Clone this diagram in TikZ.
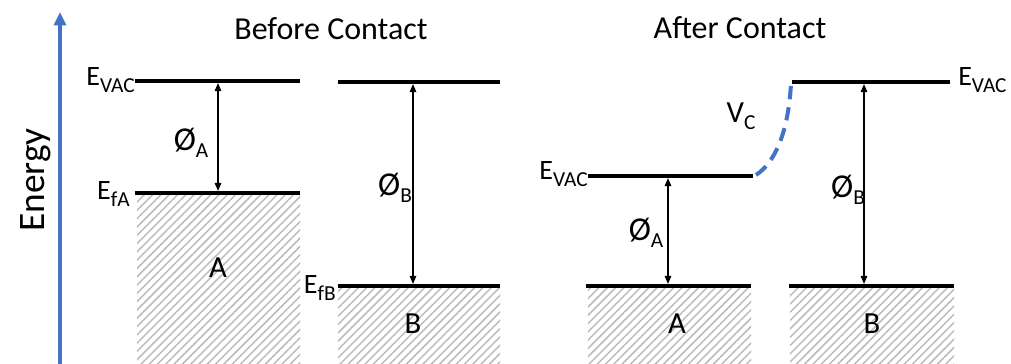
\documentclass[tikz,border=0pt]{standalone}
\usepackage{fontspec}
\setmainfont{Carlito}
\usetikzlibrary{arrows.meta,patterns.meta}
\definecolor{axisblue}{HTML}{4472C4}
\definecolor{hatchgray}{HTML}{BABABA}
% lowered, smaller text for subscripts
\newcommand\subtxt[2][16]{\raisebox{-5.5pt}{\fontsize{#1}{#1}\selectfont #2}}
\newcommand\phisym{\fontsize{25}{27}\selectfont Ø}

\begin{document}
\begin{tikzpicture}[x=0.75pt,y=-0.75pt,
  level/.style={line width=3pt},
  gap/.style={line width=0.8pt,
    {Triangle[length=6pt,width=5pt]}-{Triangle[length=6pt,width=5pt]},
    shorten <=1.6pt, shorten >=1.6pt},
  band/.style={pattern={Lines[angle=45,distance=4.4pt,line width=1.1pt]},
    pattern color=hatchgray},
  lab/.style={inner sep=0pt, font=\fontsize{21}{24}\selectfont},
  big/.style={inner sep=0pt, font=\fontsize{23}{26}\selectfont},
  title/.style={inner sep=0pt, font=\fontsize{24}{28}\selectfont},
]
\useasboundingbox (0,0) rectangle (1011,364);

% energy axis
\coordinate (axbot) at (60,364);
\coordinate (axtop) at (60,12);
\draw[axisblue, line width=3pt, -{Triangle[length=10pt,width=9pt]}] (axbot) -- (axtop);
\node[inner sep=0pt, rotate=90, anchor=base, font=\fontsize{28}{32}\selectfont] (energy) at (45,180) {Energy};

% titles
\node[title, anchor=base] (before) at (331,39) {Before Contact};
\node[title, anchor=base] (after) at (740,38) {After Contact};

% ---------- before contact ----------
\fill[band] (137,195) rectangle (300,364);
\fill[band] (338,288) rectangle (500,364);
\draw[level] (135,81) coordinate (vacAl) -- (300,81) coordinate (vacAr);
\draw[level] (135,193) coordinate (fAl) -- (300,193) coordinate (fAr);
\draw[level] (338,82) coordinate (vacBl) -- (500,82) coordinate (vacBr);
\draw[level] (338,286) coordinate (fBl) -- (500,286) coordinate (fBr);

\coordinate (gA1) at (218,81);  \coordinate (gA2) at (218,193);
\coordinate (gB1) at (413,82);  \coordinate (gB2) at (413,286);
\draw[gap] (gA1) -- (gA2);
\draw[gap] (gB1) -- (gB2);

\node[lab, anchor=base east] (lvacA) at (135,85) {E\subtxt{VAC}};
\node[lab, anchor=base east] (lfA) at (130,199) {E\subtxt{fA}};
\node[lab, anchor=base east] (lfB) at (336,293) {E\subtxt{fB}};
\node[inner sep=0pt, anchor=base] (phiA) at (191,150) {\phisym\subtxt{A}};
\node[inner sep=0pt, anchor=base] (phiB) at (395,195) {\phisym\subtxt{B}};
\node[big, anchor=base] (mA) at (218,277) {A};
\node[big, anchor=base] (mB) at (413,333) {B};

% ---------- after contact ----------
\fill[band] (588,288) rectangle (751,364);
\fill[band] (790,288) rectangle (954,364);
\draw[level] (588,176) coordinate (vacAl2) -- (753,176) coordinate (vacAr2);
\draw[level] (792,82) coordinate (vacBl2) -- (950,82) coordinate (vacBr2);
\draw[level] (586,286) coordinate (fAl2) -- (751,286) coordinate (fAr2);
\draw[level] (789,286) coordinate (fBl2) -- (954,286) coordinate (fBr2);

% contact potential step
\coordinate (vcS) at (756,175);
\coordinate (vcE) at (791,84);
\draw[axisblue, line width=3pt, dash pattern=on 10pt off 6pt]
  (vcS) .. controls (774,163) and (788,135) .. (vcE);

\coordinate (gA3) at (668,176); \coordinate (gA4) at (668,286);
\coordinate (gB3) at (864,82);  \coordinate (gB4) at (864,286);
\draw[gap] (gA3) -- (gA4);
\draw[gap] (gB3) -- (gB4);

\node[lab, anchor=base east] (lvacA2) at (588,179) {E\subtxt{VAC}};
\node[lab, anchor=base west] (lvacB2) at (958,85) {E\subtxt{VAC}};
\node[big, anchor=base] (lvc) at (741,122) {V\subtxt{C}};
\node[inner sep=0pt, anchor=base] (phiA2) at (646,240) {\phisym\subtxt{A}};
\node[inner sep=0pt, anchor=base] (phiB2) at (848,197) {\phisym\subtxt{B}};
\node[big, anchor=base] (mA2) at (677,333) {A};
\node[big, anchor=base] (mB2) at (872,333) {B};
\end{tikzpicture}
\end{document}
